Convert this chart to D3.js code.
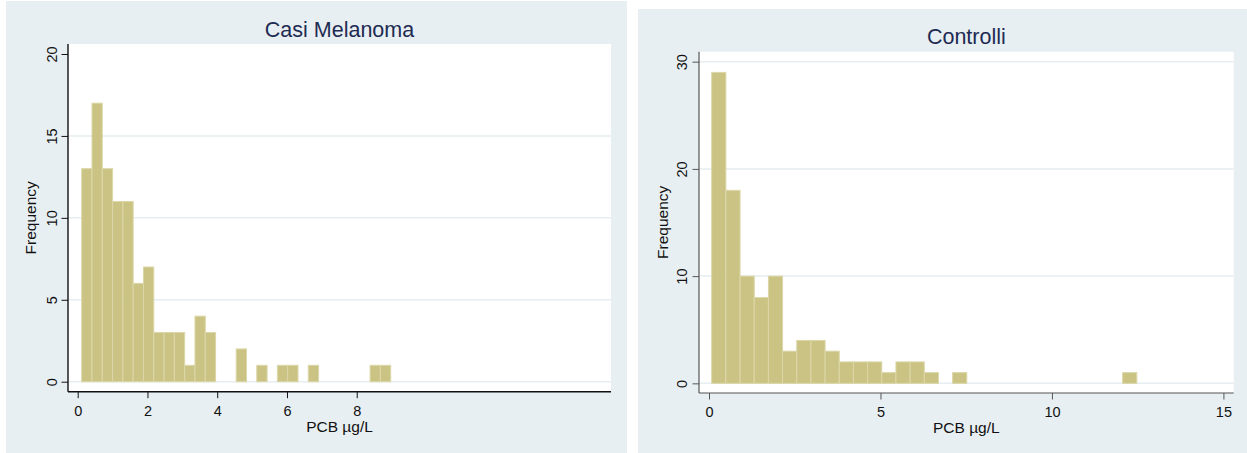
<!DOCTYPE html>
<html>
<head>
<meta charset="utf-8">
<script src="https://cdn.jsdelivr.net/npm/d3@7"></script>
<style>
  html, body { margin: 0; padding: 0; background: #ffffff; }
  svg { display: block; }
  text { font-family: "Liberation Sans", Arial, Helvetica, sans-serif; }
</style>
</head>
<body>
<svg id="chart" width="1247" height="453"></svg>
<script>
// ---------------- DATA ----------------
const panelTitles = ["Casi Melanoma", "Controlli"];
const xAxisTitle = "PCB µg/L";
const yAxisTitle = "Frequency";

// Casi Melanoma histogram: 30 bins between min and max of data
const casiCounts = [13, 17, 13, 11, 11, 6, 7, 3, 3, 3, 1, 4, 3, 0, 0, 2, 0, 1, 0, 1, 1, 0, 1, 0, 0, 0, 0, 0, 1, 1];
const casiRange = [0.114, 8.974];
const casiXTicks = [0, 2, 4, 6, 8];
const casiYTicks = [0, 5, 10, 15, 20];

// Controlli histogram: 30 bins between min and max of data
const controlliCounts = [29, 18, 10, 8, 10, 3, 4, 4, 3, 2, 2, 2, 1, 2, 2, 1, 0, 1, 0, 0, 0, 0, 0, 0, 0, 0, 0, 0, 0, 1];
const controlliRange = [0.079, 12.475];
const controlliXTicks = [0, 5, 10, 15];
const controlliYTicks = [0, 10, 20, 30];

// ---------------- STYLE / LAYOUT ----------------
const colors = {
  region: "#e8eff2",
  plot: "#ffffff",
  grid: "#e6eef1",
  barFill: "#cac384",
  barStroke: "#dcd7a8",
  title: "#1e2b52",
  text: "#111111"
};

const panels = [
  {
    title: panelTitles[0], counts: casiCounts, range: casiRange,
    xTicks: casiXTicks, yTicks: casiYTicks,
    xDomain: [-0.278, 15.29], yDomain: [-0.61, 20.61],
    region: {x: 6, y: 1, w: 621, h: 452},
    plot: {x0: 68, x1: 611, y0: 44, y1: 391.7},
    titleY: 37, xTickLabelY: 416.5, xTitleY: 432,
    yTickLabelX: 56.7, yTitleX: 36,
    axisColor: "#111111", axisWidth: 1.4,
    gridSkip: [20]
  },
  {
    title: panelTitles[1], counts: controlliCounts, range: controlliRange,
    xTicks: controlliXTicks, yTicks: controlliYTicks,
    xDomain: [-0.292, 15.30], yDomain: [-0.9, 30.93],
    region: {x: 638, y: 9, w: 609, h: 444},
    plot: {x0: 699, x1: 1233.7, y0: 51.7, y1: 393},
    titleY: 44, xTickLabelY: 417, xTitleY: 433,
    yTickLabelX: 686.7, yTitleX: 667.5,
    axisColor: "#555555", axisWidth: 1.2,
    gridSkip: []
  }
];

const svg = d3.select("#chart");

panels.forEach(p => {
  const g = svg.append("g");

  // graph region background
  g.append("rect")
    .attr("x", p.region.x).attr("y", p.region.y)
    .attr("width", p.region.w).attr("height", p.region.h)
    .attr("fill", colors.region);

  // plot area
  g.append("rect")
    .attr("x", p.plot.x0).attr("y", p.plot.y0)
    .attr("width", p.plot.x1 - p.plot.x0).attr("height", p.plot.y1 - p.plot.y0)
    .attr("fill", colors.plot);

  const x = d3.scaleLinear().domain(p.xDomain).range([p.plot.x0, p.plot.x1]);
  const y = d3.scaleLinear().domain(p.yDomain).range([p.plot.y1, p.plot.y0]);

  // gridlines
  g.append("g").selectAll("line")
    .data(p.yTicks.filter(t => !p.gridSkip.includes(t)))
    .join("line")
    .attr("x1", p.plot.x0).attr("x2", p.plot.x1)
    .attr("y1", d => y(d)).attr("y2", d => y(d))
    .attr("stroke", colors.grid).attr("stroke-width", 1.5);

  // bins
  const n = p.counts.length;
  const bw = (p.range[1] - p.range[0]) / n;
  const bins = p.counts.map((c, i) => ({x0: p.range[0] + i * bw, x1: p.range[0] + (i + 1) * bw, c}));

  g.append("g").selectAll("rect")
    .data(bins.filter(b => b.c > 0))
    .join("rect")
    .attr("x", d => x(d.x0))
    .attr("width", d => x(d.x1) - x(d.x0))
    .attr("y", d => y(d.c))
    .attr("height", d => y(0) - y(d.c))
    .attr("fill", colors.barFill)
    .attr("stroke", colors.barStroke)
    .attr("stroke-width", 1);

  // x axis
  const xAxis = d3.axisBottom(x).tickValues(p.xTicks).tickSize(6.5).tickSizeOuter(0).tickPadding(0);
  const xg = g.append("g").attr("transform", `translate(0,${p.plot.y1})`).call(xAxis);
  xg.select(".domain").attr("d", `M${p.plot.x0},0H${p.plot.x1}`)
    .attr("stroke", p.axisColor).attr("stroke-width", p.axisWidth);
  xg.selectAll(".tick line").attr("stroke", p.axisColor).attr("stroke-width", 1);
  xg.selectAll(".tick text")
    .attr("y", p.xTickLabelY - p.plot.y1).attr("dy", null)
    .attr("font-size", "14.5px").attr("fill", colors.text)
    .attr("font-family", "Liberation Sans, Arial, sans-serif");

  // y axis
  const yAxis = d3.axisLeft(y).tickValues(p.yTicks).tickSize(6.5).tickSizeOuter(0);
  const yg = g.append("g").attr("transform", `translate(${p.plot.x0},0)`).call(yAxis);
  yg.select(".domain").attr("d", `M0,${p.plot.y1}V${p.plot.y0}`)
    .attr("stroke", p.axisColor).attr("stroke-width", p.axisWidth);
  yg.selectAll(".tick line").attr("stroke", p.axisColor).attr("stroke-width", 1);
  yg.selectAll(".tick text")
    .attr("x", null).attr("dy", null)
    .attr("transform", `translate(${p.yTickLabelX - p.plot.x0},0) rotate(-90)`)
    .attr("text-anchor", "middle")
    .attr("font-size", "14.5px").attr("fill", colors.text)
    .attr("font-family", "Liberation Sans, Arial, sans-serif");

  // title
  g.append("text")
    .attr("x", (p.plot.x0 + p.plot.x1) / 2).attr("y", p.titleY)
    .attr("text-anchor", "middle")
    .attr("font-size", "21.5px")
    .attr("fill", colors.title)
    .text(p.title);

  // x title
  g.append("text")
    .attr("x", (p.plot.x0 + p.plot.x1) / 2).attr("y", p.xTitleY)
    .attr("text-anchor", "middle")
    .attr("font-size", "15.5px")
    .attr("fill", colors.text)
    .text(xAxisTitle);

  // y title
  g.append("text")
    .attr("transform", `translate(${p.yTitleX},${(p.plot.y0 + p.plot.y1) / 2}) rotate(-90)`)
    .attr("text-anchor", "middle")
    .attr("font-size", "15.5px")
    .attr("fill", colors.text)
    .text(yAxisTitle);
});
</script>
</body>
</html>
